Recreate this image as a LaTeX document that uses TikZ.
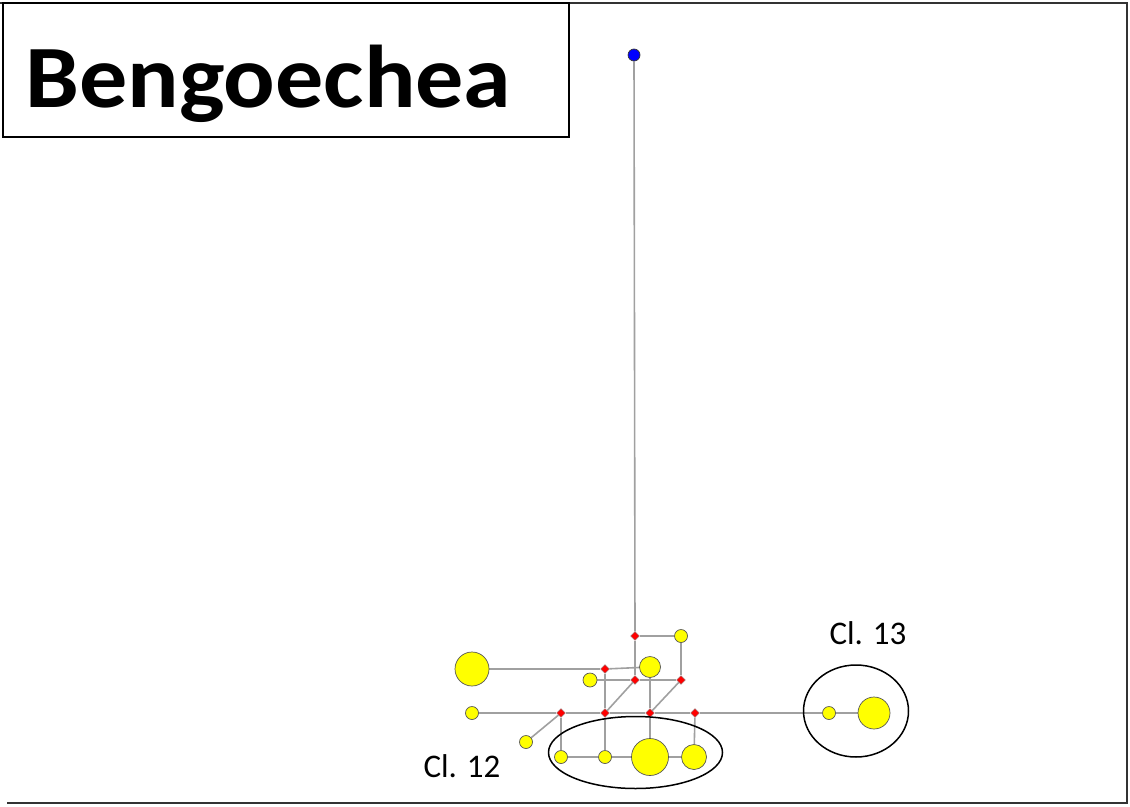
\documentclass[tikz,border=0pt]{standalone}
\usepackage{fontspec}
\setmainfont{Carlito}
\usetikzlibrary{backgrounds, positioning, shapes.geometric}
\definecolor{hapfill}{HTML}{FFFF00}
\definecolor{hapborder}{HTML}{555555}
\definecolor{mvfill}{HTML}{FF0000}
\definecolor{outfill}{HTML}{0000FF}
\definecolor{linkgray}{HTML}{A0A0A0}
\definecolor{framegray}{HTML}{333333}
\tikzset{
  hap/.style={circle, draw=hapborder, fill=hapfill, line width=0.7pt,
              inner sep=0pt, minimum size=#1},
  hap/.default=13pt,
  mv/.style={diamond, draw=hapborder!70, fill=mvfill, line width=0.4pt,
             inner sep=0pt, minimum size=9pt},
  outgroup/.style={circle, draw=black!80, fill=outfill, line width=0.7pt,
                   inner sep=0pt, minimum size=12pt},
  link/.style={draw=linkgray, line width=1.6pt},
  clus/.style={ellipse, draw=black, line width=1.5pt, inner sep=0pt},
  cllabel/.style={font=\fontsize{33}{38}\selectfont, inner sep=0pt},
  titlebox/.style={draw=black, line width=1.5pt},
  frame/.style={draw=framegray, line width=2.6pt},
}
\def\rowA{636}
\def\rowB{669}
\def\rowC{680}
\def\rowD{713}
\def\rowE{757}

\begin{document}
\begin{tikzpicture}[x=1pt, y=-1pt]
\useasboundingbox (0,0) rectangle (1130,806);

% Frame and title
\draw[frame] (0,3) -- (1127,3) -- (1127,803) -- (7,803);
\draw[titlebox, fill=white] (3,3) rectangle (569,137);
\node[anchor=base west, inner sep=0pt, font=\fontsize{89}{100}\selectfont\bfseries]
  (title) at (25,107) {\scalebox{1.08}[1]{Bengoechea}};

% Outgroup
\node[outgroup] (out) at (634,55) {};

% Median vectors
\node[mv] (mvA) at (635,\rowA) {};
\node[mv] (mvD) at (605,\rowB) {};
\node[mv] (mvG) at (635,\rowC) {};
\node[mv] (mvH) at (681,\rowC) {};
\node[mv] (mvM) at (561,\rowD) {};
\node[mv] (mvN) at (605,\rowD) {};
\node[mv] (mvK) at (650,\rowD) {};
\node[mv] (mvP) at (695,\rowD) {};

% Haplotypes
\node[hap] (hB) at (681,\rowA) {};
\node[hap=34pt] (hC) at (472,\rowB) {};
\node[hap=21pt] (hE) at (650,667) {};
\node[hap=14pt] (hF) at (590,\rowC) {};
\node[hap] (hL) at (472,\rowD) {};
\node[hap] (hR) at (526,742) {};
\node[hap] (hS) at (561,\rowE) {};
\node[hap] (hU) at (605,\rowE) {};
\node[hap=37pt] (hV) at (650,\rowE) {};
\node[hap=25pt] (hT) at (694,\rowE) {};
\node[hap] (hQ) at (829,\rowD) {};
\node[hap=32pt] (hW) at (874,\rowD) {};

% Clusters
\node[clus, minimum width=174pt, minimum height=72pt] (cl12) at (635.5,752.5) {};
\node[clus, minimum width=105pt, minimum height=92pt] (cl13) at (856,711) {};
\node[cllabel] (lab12) at (462,766) {Cl. 12};
\node[cllabel] (lab13) at (868,633) {Cl. 13};

% Links
\begin{scope}[on background layer]
  \draw[link] (out) -- (mvA);
  \foreach \a/\b in {mvA/hB, mvA/mvG, hB/mvH, hC/mvD, mvD/hE, hF/mvG,
                     mvG/mvH, mvD/mvN, mvG/mvN, hE/mvK, mvK/hV, mvH/mvK,
                     hL/mvM, mvM/mvN, mvN/mvK, mvK/mvP, mvP/hQ, hQ/hW,
                     hR/mvM, mvM/hS, mvN/hU, mvP/hT, hS/hU, hU/hV, hV/hT} {
    \draw[link] (\a) -- (\b);
  }
\end{scope}

\end{tikzpicture}
\end{document}
